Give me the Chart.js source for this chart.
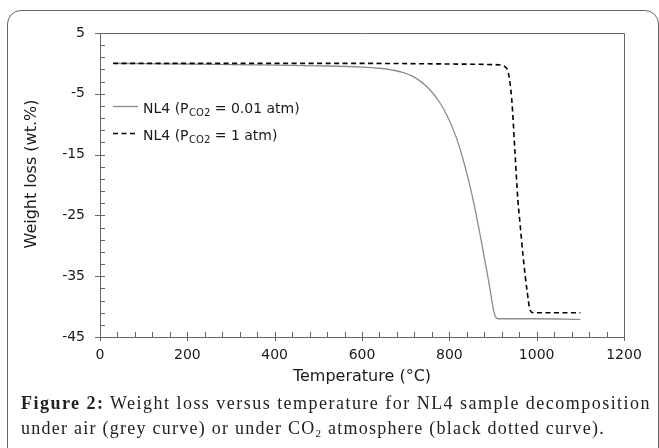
<!DOCTYPE html>
<html>
<head>
<meta charset="utf-8">
<script src="https://cdn.jsdelivr.net/npm/chart.js@4/dist/chart.umd.min.js"></script>
<style>
html,body{margin:0;padding:0;background:#fff;width:659px;height:448px;overflow:hidden;}
#frame{position:absolute;left:7px;top:10px;width:652px;height:470px;border:1px solid #666;border-radius:14px;box-sizing:border-box;}
#wrap{position:absolute;left:0;top:0;width:659px;height:392px;}
.cap{position:absolute;left:21px;white-space:nowrap;font-family:"Liberation Serif","Times New Roman",serif;font-size:18px;line-height:25px;color:#222;}
#cap1{top:391px;}
#cap2{top:416px;}
</style>
</head>
<body>
<div id="frame"></div>
<div id="wrap"><canvas id="c" width="659" height="392"></canvas></div>
<div class="cap" id="cap1"><b>Figure 2:</b> Weight loss versus temperature for NL4 sample decomposition</div>
<div class="cap" id="cap2">under air (grey curve) or under CO<sub style="font-size:11px;vertical-align:-3px;line-height:0">2</sub> atmosphere (black dotted curve).</div>
<script>
// ---- data ----
const airTemp = [30, 100, 200, 300, 400, 500, 600, 640, 670, 695, 715, 735, 755, 775, 795, 815, 830, 850, 870, 890, 905, 912, 1000, 1100];
const airLoss = [0, -0.05, -0.1, -0.2, -0.3, -0.4, -0.6, -0.8, -1.1, -1.5, -2.1, -3.0, -4.3, -6.1, -8.6, -12.0, -15.4, -21.0, -28.0, -35.8, -41.6, -42.0, -42.0, -42.1];
const co2Temp = [30, 200, 400, 600, 800, 900, 920, 928, 935, 943, 950, 957, 962, 969, 978, 985, 992, 1000, 1100];
const co2Loss = [0, 0, 0, 0, -0.1, -0.2, -0.3, -0.6, -1.5, -6.0, -14.2, -22.5, -26.4, -31.8, -37.4, -40.6, -41.0, -41.0, -41.0];
const xTickValues = [0, 200, 400, 600, 800, 1000, 1200];
const yTickValues = [-45, -35, -25, -15, -5, 5];
const seriesLabels = ['NL4 (P|CO2| = 0.01 atm)', 'NL4 (P|CO2| = 1 atm)'];
const xTitle = 'Temperature (°C)';
const yTitle = 'Weight loss (wt.%)';

const AX = '#666';
const TXT = '#1a1a1a';
const FONT = '"DejaVu Sans", Arial, sans-serif';

const pts = (xs, ys) => xs.map((x, i) => ({x: x, y: ys[i]}));

const decor = {
  id: 'decor',
  afterDatasetsDraw(chart) {
    const {ctx, chartArea: a, scales: {x, y}} = chart;
    ctx.save();
    ctx.strokeStyle = AX;
    ctx.lineWidth = 1;
    ctx.beginPath();
    ctx.rect(Math.round(a.left) + 0.5, Math.round(a.top) + 0.5, Math.round(a.right - a.left), Math.round(a.bottom - a.top));
    ctx.stroke();
    // y ticks
    const yMin = yTickValues[0], yMax = yTickValues[yTickValues.length - 1];
    ctx.beginPath();
    for (let v = yMin; v <= yMax + 1e-9; v += 2) {
      const py = Math.round(y.getPixelForValue(v)) + 0.5;
      const major = yTickValues.includes(v);
      ctx.moveTo(a.left - (major ? 5 : 0), py);
      ctx.lineTo(a.left + 5, py);
    }
    // x ticks
    const xMin = xTickValues[0], xMax = xTickValues[xTickValues.length - 1];
    for (let v = xMin; v <= xMax + 1e-9; v += 40) {
      const px = Math.round(x.getPixelForValue(v)) + 0.5;
      const major = xTickValues.includes(v);
      ctx.moveTo(px, a.bottom - 5);
      ctx.lineTo(px, a.bottom + (major ? 4 : 0));
    }
    ctx.stroke();

    // y title
    ctx.fillStyle = TXT;
    ctx.font = '16px ' + FONT;
    ctx.textAlign = 'center';
    ctx.textBaseline = 'middle';
    ctx.translate(32, 174);
    ctx.rotate(-Math.PI / 2);
    ctx.fillText(yTitle, 0, 0);
    ctx.restore();

    // legend
    ctx.save();
    const rows = [
      {y: 106, color: '#8c8c8c', w: 1.3, dash: []},
      {y: 133, color: '#000', w: 1.6, dash: [5, 3.5]}
    ];
    rows.forEach((r, i) => {
      ctx.strokeStyle = r.color;
      ctx.lineWidth = r.w;
      ctx.setLineDash(r.dash);
      ctx.beginPath();
      ctx.moveTo(a.left + 13, r.y + 0.5);
      ctx.lineTo(a.left + 38, r.y + 0.5);
      ctx.stroke();
      ctx.setLineDash([]);
      const parts = seriesLabels[i].split('|');
      let tx = a.left + 43;
      const base = r.y + 7;
      ctx.fillStyle = TXT;
      ctx.textAlign = 'left';
      ctx.textBaseline = 'alphabetic';
      ctx.font = '14px ' + FONT;
      ctx.fillText(parts[0], tx, base);
      tx += ctx.measureText(parts[0]).width + 0.5;
      ctx.font = '10px ' + FONT;
      ctx.fillText(parts[1], tx, base + 3);
      tx += ctx.measureText(parts[1]).width;
      ctx.font = '14px ' + FONT;
      ctx.fillText(parts[2], tx, base);
    });
    ctx.restore();
  }
};

new Chart(document.getElementById('c'), {
  type: 'line',
  data: {
    datasets: [
      {
        label: seriesLabels[1],
        data: pts(co2Temp, co2Loss),
        borderColor: '#000',
        borderWidth: 1.6,
        borderDash: [5, 3.5],
        pointRadius: 0,
        cubicInterpolationMode: 'monotone',
        fill: false,
        order: 0
      },
      {
        label: seriesLabels[0],
        data: pts(airTemp, airLoss),
        borderColor: '#8c8c8c',
        borderWidth: 1.3,
        pointRadius: 0,
        cubicInterpolationMode: 'monotone',
        fill: false,
        order: 1
      }
    ]
  },
  options: {
    responsive: false,
    animation: false,
    events: [],
    layout: {padding: {left: 0, top: 33, right: 35, bottom: 0}},
    plugins: {legend: {display: false}, tooltip: {enabled: false}},
    scales: {
      x: {
        type: 'linear',
        min: xTickValues[0],
        max: xTickValues[xTickValues.length - 1],
        afterFit: s => { s.height = 55; },
        afterBuildTicks: s => { s.ticks = xTickValues.map(v => ({value: v})); },
        grid: {display: false, drawTicks: false, tickLength: 0},
        border: {display: false},
        ticks: {color: TXT, font: {family: FONT, size: 14}, padding: 10, maxRotation: 0, autoSkip: false, callback: v => String(v)},
        title: {display: true, text: xTitle, color: TXT, font: {family: FONT, size: 16}, padding: {top: 2, bottom: 6}}
      },
      y: {
        type: 'linear',
        min: yTickValues[0],
        max: yTickValues[yTickValues.length - 1],
        afterFit: s => { s.width = 100; },
        afterBuildTicks: s => { s.ticks = yTickValues.map(v => ({value: v})); },
        grid: {display: false, drawTicks: false, tickLength: 0},
        border: {display: false},
        ticks: {color: TXT, font: {family: FONT, size: 14}, padding: 15, autoSkip: false, callback: v => String(v)}
      }
    }
  },
  plugins: [decor]
});

// fit caption lines to reference widths
function fit(id, target) {
  const el = document.getElementById(id);
  el.style.letterSpacing = '0px';
  const w = el.getBoundingClientRect().width;
  const n = el.textContent.length;
  el.style.letterSpacing = ((target - w) / n) + 'px';
}
fit('cap1', 630);
fit('cap2', 584);
</script>
</body>
</html>
